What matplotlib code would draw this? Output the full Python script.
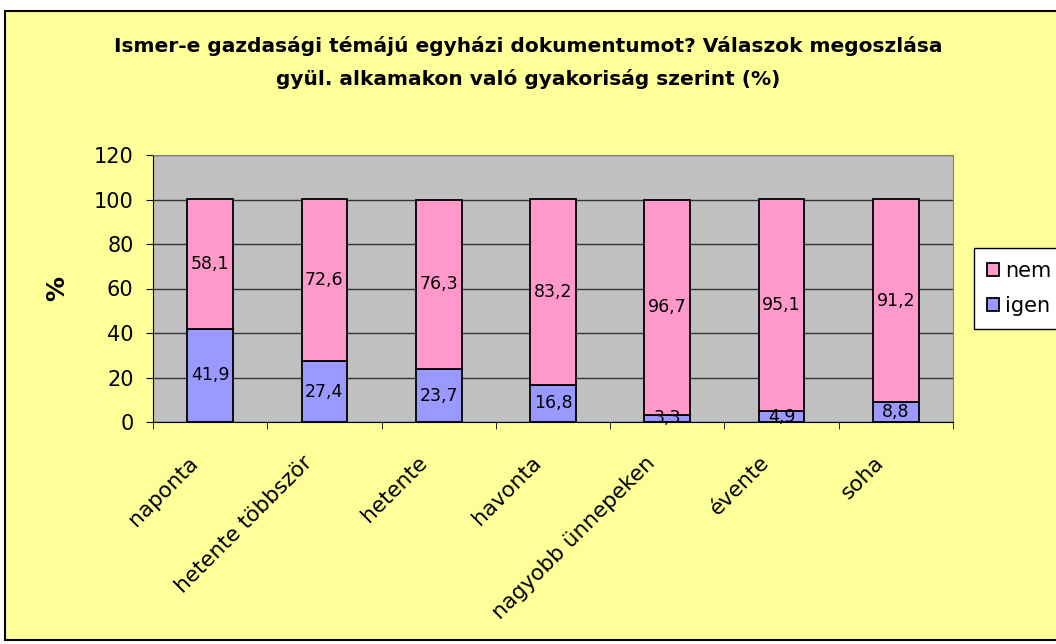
import matplotlib
matplotlib.use("Agg")
import matplotlib.pyplot as plt
from matplotlib.patches import Rectangle
from matplotlib.transforms import ScaledTranslation
import numpy as np

categories = ["naponta", "hetente többször", "hetente", "havonta",
              "nagyobb ünnepeken", "évente", "soha"]
igen = [41.9, 27.4, 23.7, 16.8, 3.3, 4.9, 8.8]
nem = [58.1, 72.6, 76.3, 83.2, 96.7, 95.1, 91.2]
yticks = [0, 20, 40, 60, 80, 100, 120]

plt.rcParams["font.family"] = ["DejaVu Sans"]

fig = plt.figure(figsize=(10.56, 6.44), dpi=100)
fig.patch.set_facecolor("white")
fig.patches.append(Rectangle((5 / 1056, 4 / 644), 1.2, 629 / 644, transform=fig.transFigure,
                             facecolor="#FFFF99", edgecolor="black", linewidth=1.5, zorder=-10))

ax = fig.add_axes([153 / 1056, 1 - 422 / 644, 800 / 1056, 267 / 644])
ax.set_facecolor("#C0C0C0")
x = np.arange(len(categories))
b1 = ax.bar(x, igen, width=0.4, color="#9999FF", edgecolor="black", linewidth=1.3, label="igen", zorder=3)
b2 = ax.bar(x, nem, width=0.4, bottom=igen, color="#FF99CC", edgecolor="black", linewidth=1.3, label="nem", zorder=3)
fmt = lambda v: f"{v:.1f}".replace(".", ",")
ax.bar_label(b1, labels=[fmt(v) for v in igen], label_type="center", fontsize=12.5, zorder=4)
ax.bar_label(b2, labels=[fmt(v) for v in nem], label_type="center", fontsize=12.5, zorder=4)

ax.set_xlim(-0.5, len(categories) - 0.5)
ax.set_ylim(0, 120)
ax.set_yticks(yticks)
ax.tick_params(axis="y", labelsize=15, direction="out", length=5, color="black", pad=9)
ax.yaxis.grid(True, color="#333333", linewidth=1, zorder=1)
ax.set_xticks(x)
ax.set_xticklabels(categories, rotation=45, ha="right", va="center", rotation_mode="anchor", fontsize=15.5)
ax.tick_params(axis="x", which="major", length=0, pad=27)
for lab in ax.get_xticklabels():
    lab.set_transform(lab.get_transform() + ScaledTranslation(-15 / 100, 0, fig.dpi_scale_trans))
ax.set_xticks(np.arange(len(categories) + 1) - 0.5, minor=True)
ax.tick_params(axis="x", which="minor", length=5, direction="out", color="black")
for s in ["top", "right"]:
    ax.spines[s].set_color("#808080")
for s in ["left", "bottom"]:
    ax.spines[s].set_color("black")
ax.set_ylabel("%", fontsize=18, fontweight="bold", labelpad=18)

fig.text(0.5, 1 - 46 / 644, "Ismer-e gazdasági témájú egyházi dokumentumot? Válaszok megoszlása",
         ha="center", va="center", fontsize=14.5, fontweight="bold")
fig.text(0.5, 1 - 79 / 644, "gyül. alkamakon való gyakoriság szerint (%)",
         ha="center", va="center", fontsize=14.5, fontweight="bold")

h, l = ax.get_legend_handles_labels()
leg = fig.legend(h[::-1], l[::-1], loc="upper left", bbox_to_anchor=(974 / 1056, 1 - 248 / 644),
                 fontsize=15, frameon=True, fancybox=False, edgecolor="black", facecolor="white",
                 framealpha=1, handlelength=0.6, handleheight=0.6, handletextpad=0.3, borderpad=0.6,
                 labelspacing=0.75, borderaxespad=0)
leg.get_frame().set_linewidth(1)

fig.savefig("out.png", dpi=100)
